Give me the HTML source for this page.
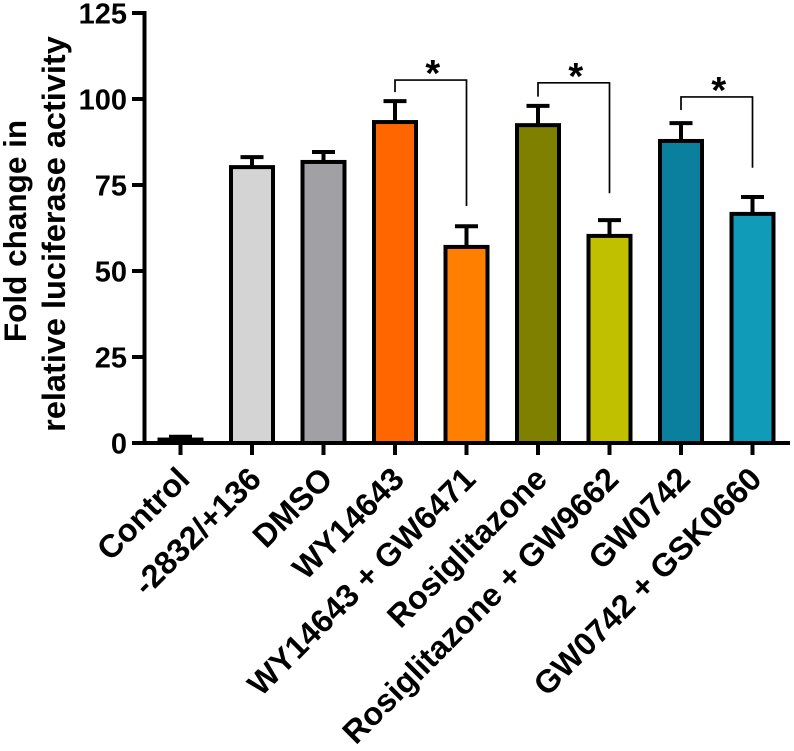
<!DOCTYPE html>
<html>
<head>
<meta charset="utf-8">
<style>
html,body{margin:0;padding:0;background:#fff;}
svg{display:block;}
text{font-family:"Liberation Sans",sans-serif;font-weight:bold;fill:#000;}
</style>
</head>
<body>
<svg id="chart" width="794" height="751" viewBox="0 0 794 751" xmlns="http://www.w3.org/2000/svg">
  <text transform="translate(26,231) rotate(-90)" text-anchor="middle" font-size="31.5">Fold change in</text>
  <text transform="translate(65,234) rotate(-90)" text-anchor="middle" font-size="32.5">relative luciferase activity</text>
</svg>
<script>
const categories = ["Control","-2832/+136","DMSO","WY14643","WY14643 + GW6471","Rosiglitazone","Rosiglitazone + GW9662","GW0742","GW0742 + GSK0660"];
const means = [1, 80.2, 81.7, 93.3, 57, 92.4, 60.2, 87.8, 66.6];
const errors = [0.8, 2.9, 2.9, 6.1, 6, 5.6, 4.6, 5.2, 4.9];
const barColors = ["#ffffff","#d4d4d4","#a1a1a5","#ff6600","#ff8000","#808000","#c0c000","#0a7f9e","#109cb8"];
const yTicks = [0, 25, 50, 75, 100, 125];
const bracketStart = [3, 5, 7];
const bracketEnd = [4, 6, 8];
const bracketTop = [105.5, 104.7, 100.6];
const bracketLeftEnd = [102, 100.7, 96.8];
const bracketRightEnd = [68.9, 72.6, 80];

const svg = document.getElementById('chart');
const NS = 'http://www.w3.org/2000/svg';
const y = v => 443 - 3.44 * v;
const x = i => 180.5 + 71.5 * i;
const BAR_W = 42, CAP = 23;

function make(tag, attrs, parent) {
  const el = document.createElementNS(NS, tag);
  for (const k in attrs) el.setAttribute(k, attrs[k]);
  (parent || svg).appendChild(el);
  return el;
}

// Bars and error bars
categories.forEach((c, i) => {
  const top = y(means[i]), cap = y(means[i] + errors[i]);
  const eb = make('path', {d: `M${x(i)} ${top}V${cap}M${x(i) - CAP / 2} ${cap}H${x(i) + CAP / 2}`, fill: 'none', stroke: '#000', 'stroke-width': 4});
  
  
  const bar = make('rect', {x: x(i) - BAR_W / 2, y: top, width: BAR_W, height: y(0) - top, fill: barColors[i], stroke: '#000', 'stroke-width': 4});
  
  
});

// Y axis
const yAxis = make('path', {d: `M144.5 ${y(125) - 2}V${y(0) + 2}`, fill: 'none', stroke: '#000', 'stroke-width': 4});


yTicks.forEach(t => {
  const tick = make('path', {d: `M132 ${y(t)}H146`, fill: 'none', stroke: '#000', 'stroke-width': 4});
  
  
  const lab = make('text', {x: 127, y: y(t) + 10.5, 'text-anchor': 'end', 'font-size': 29});
  
  
  lab.textContent = t;
});

// X axis
const xAxis = make('path', {d: `M132 ${y(0)}H790`, fill: 'none', stroke: '#000', 'stroke-width': 4});


categories.forEach((c, i) => {
  const tick = make('path', {d: `M${x(i)} ${y(0)}V455`, fill: 'none', stroke: '#000', 'stroke-width': 4});
  
  
  const lab = make('text', {transform: `translate(${x(i) + 11},481) rotate(-45)`, 'text-anchor': 'end', 'font-size': 32.3});
  
  
  lab.textContent = c;
});

// Significance brackets
bracketStart.forEach((s, i) => {
  const e = bracketEnd[i];
  const br = make('path', {d: `M${x(s)} ${y(bracketLeftEnd[i])}V${y(bracketTop[i])}H${x(e)}V${y(bracketRightEnd[i])}`, fill: 'none', stroke: '#000', 'stroke-width': 1.7});
  
  
  const star = make('text', {x: (x(s) + x(e)) / 2 + 2, y: y(bracketTop[i]) + 6, 'text-anchor': 'middle', 'font-size': 38});
  
  
  star.textContent = '*';
});
</script>
</body>
</html>
